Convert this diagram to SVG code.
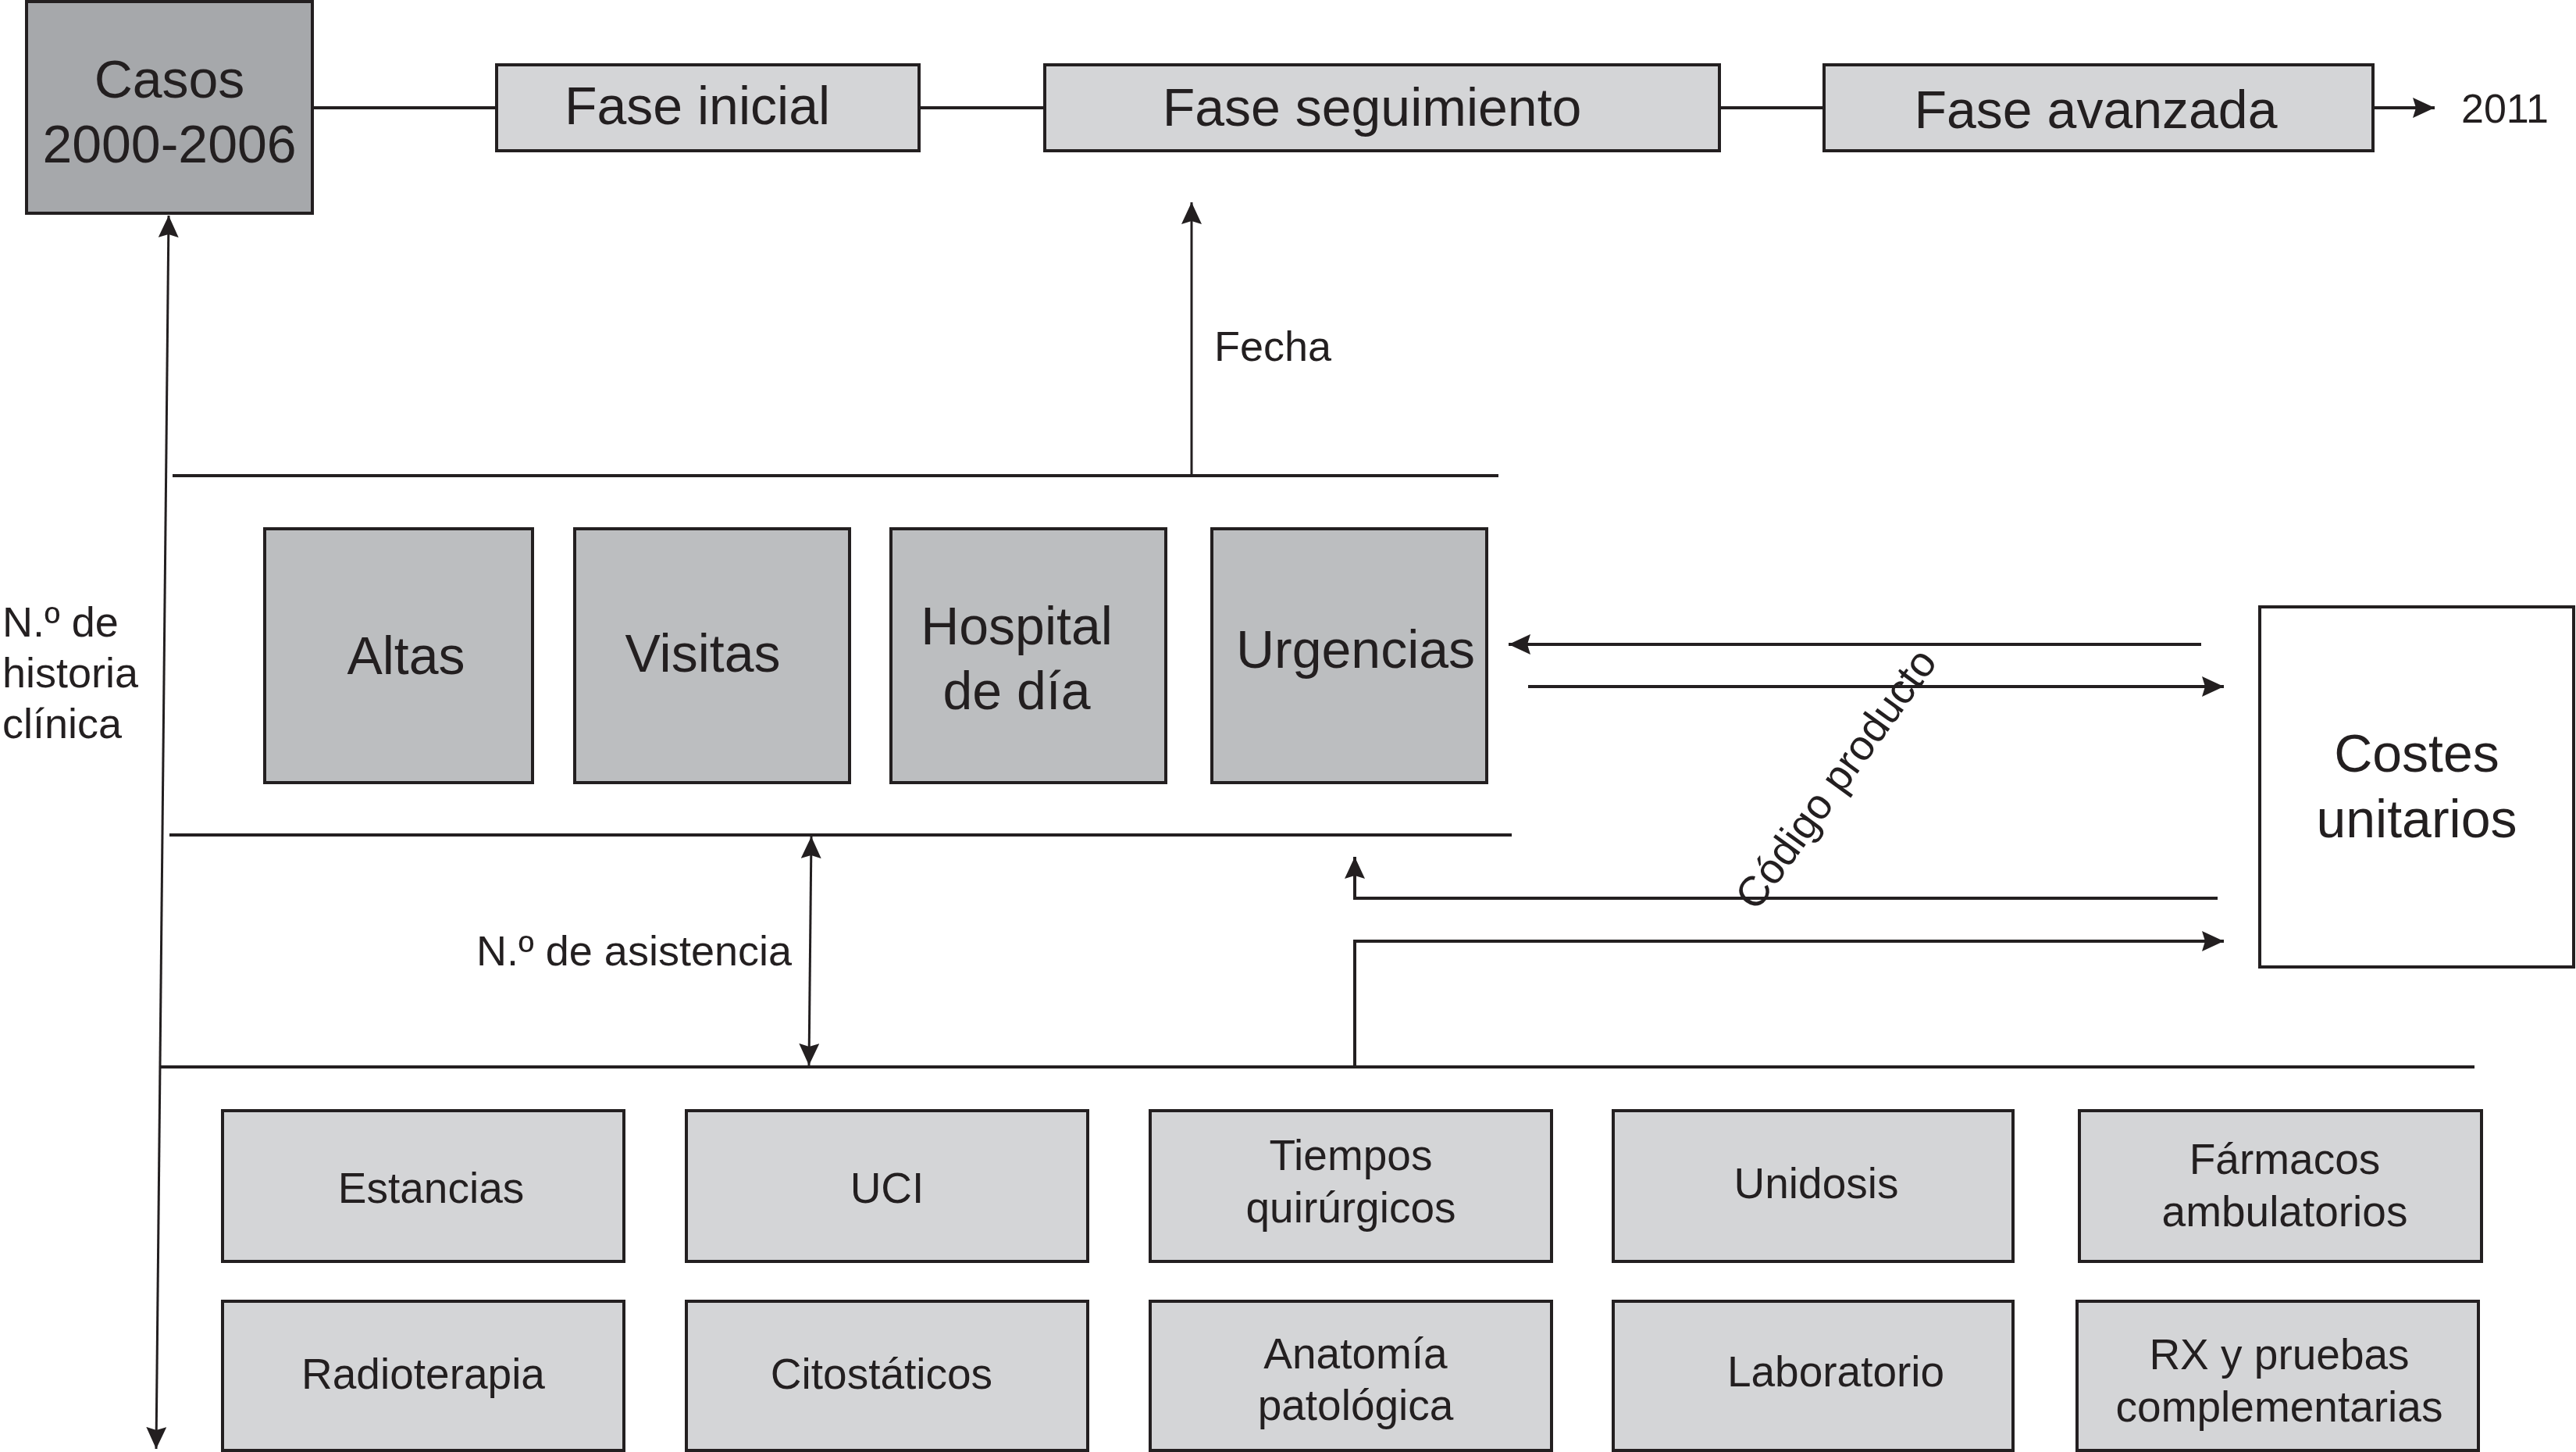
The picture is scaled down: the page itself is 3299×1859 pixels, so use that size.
<svg xmlns="http://www.w3.org/2000/svg" width="3299" height="1859" viewBox="0 0 3299 1859">
<style>
  .box { stroke: #231f20; stroke-width: 4; }
  .dark { fill: #a6a8ab; }
  .mid { fill: #bcbec0; }
  .light { fill: #d4d5d7; }
  .white { fill: #ffffff; }
  .ln { stroke: #231f20; stroke-width: 4; fill: none; }
  .thin { stroke: #231f20; stroke-width: 3; fill: none; }
  text { font-family: "Liberation Sans", Arial, sans-serif; fill: #231f20; }
  .t68 { font-size: 68px; text-anchor: middle; }
  .t66 { font-size: 66px; text-anchor: middle; }
  .t55 { font-size: 55px; text-anchor: middle; }
  .t54 { font-size: 54px; }
</style>
<defs>
  <marker id="ah" markerUnits="userSpaceOnUse" markerWidth="30" markerHeight="28" refX="28" refY="13" orient="auto-start-reverse" viewBox="0 0 30 28">
    <path d="M0,0 L28,13 L0,26 L4,13 Z" fill="#231f20"/>
  </marker>
</defs>
<rect width="3299" height="1859" fill="#ffffff"/>

<g id="connectors">
  <line class="ln" x1="400" y1="138" x2="636" y2="138"/>
  <line class="ln" x1="1177" y1="138" x2="1338" y2="138"/>
  <line class="ln" x1="2202" y1="138" x2="2336" y2="138"/>
  <line class="ln" x1="3039" y1="138" x2="3118" y2="138" marker-end="url(#ah)"/>
  <line class="thin" x1="216" y1="276" x2="200" y2="1855" marker-start="url(#ah)" marker-end="url(#ah)"/>
  <line class="ln" x1="221" y1="609" x2="1919" y2="609"/>
  <line class="thin" x1="1526" y1="609" x2="1526" y2="259" marker-end="url(#ah)"/>
  <line class="ln" x1="217" y1="1069" x2="1936" y2="1069"/>
  <line class="ln" x1="204" y1="1366" x2="3169" y2="1366"/>
  <line class="thin" x1="1039" y1="1071" x2="1036" y2="1364" marker-start="url(#ah)" marker-end="url(#ah)"/>
  <line class="ln" x1="2819" y1="825" x2="1932" y2="825" marker-end="url(#ah)"/>
  <line class="ln" x1="1957" y1="879" x2="2848" y2="879" marker-end="url(#ah)"/>
  <polyline class="ln" points="2840,1150 1735,1150 1735,1097" marker-end="url(#ah)"/>
  <polyline class="ln" points="1735,1366 1735,1205 2848,1205" marker-end="url(#ah)"/>
</g>

<g id="labels">
  <text class="t54" x="1555" y="462">Fecha</text>
  <text class="t54" x="3152" y="157" style="font-size:52px">2011</text>
  <text class="t54" x="3" y="815">N.º de</text>
  <text class="t54" x="3" y="880">historia</text>
  <text class="t54" x="3" y="945">clínica</text>
  <text class="t54" x="1014" y="1236" text-anchor="end">N.º de asistencia</text>
  <text class="t54" x="2366" y="1008" text-anchor="middle" transform="rotate(-54 2366 1008)">Código producto</text>
</g>

<g id="node-casos">
  <rect class="box dark" x="34" y="2" width="366" height="271"/>
  <text class="t68" x="217" y="125">Casos</text>
  <text class="t68" x="217" y="208">2000-2006</text>
</g>
<g id="node-fase-inicial">
  <rect class="box light" x="636" y="83" width="541" height="110"/>
  <text class="t68" x="893" y="159">Fase inicial</text>
</g>
<g id="node-fase-seguimiento">
  <rect class="box light" x="1338" y="83" width="864" height="110"/>
  <text class="t68" x="1757" y="161">Fase seguimiento</text>
</g>
<g id="node-fase-avanzada">
  <rect class="box light" x="2336" y="83" width="703" height="110"/>
  <text class="t68" x="2684" y="164">Fase avanzada</text>
</g>

<g id="node-altas">
  <rect class="box mid" x="339" y="677" width="343" height="325"/>
  <text class="t68" x="520" y="863">Altas</text>
</g>
<g id="node-visitas">
  <rect class="box mid" x="736" y="677" width="352" height="325"/>
  <text class="t68" x="900" y="860">Visitas</text>
</g>
<g id="node-hospital">
  <rect class="box mid" x="1141" y="677" width="352" height="325"/>
  <text class="t68" x="1302" y="825">Hospital</text>
  <text class="t68" x="1302" y="908">de día</text>
</g>
<g id="node-urgencias">
  <rect class="box mid" x="1552" y="677" width="352" height="325"/>
  <text class="t68" x="1736" y="855">Urgencias</text>
</g>
<g id="node-costes">
  <rect class="box white" x="2894" y="777" width="402" height="461"/>
  <text class="t68" x="3095" y="988">Costes</text>
  <text class="t68" x="3095" y="1072">unitarios</text>
</g>

<g id="node-estancias">
  <rect class="box light" x="285" y="1422" width="514" height="193"/>
  <text class="t55" x="552" y="1540">Estancias</text>
</g>
<g id="node-uci">
  <rect class="box light" x="879" y="1422" width="514" height="193"/>
  <text class="t55" x="1136" y="1540">UCI</text>
</g>
<g id="node-tiempos">
  <rect class="box light" x="1473" y="1422" width="514" height="193"/>
  <text class="t55" x="1730" y="1498">Tiempos</text>
  <text class="t55" x="1730" y="1565">quirúrgicos</text>
</g>
<g id="node-unidosis">
  <rect class="box light" x="2066" y="1422" width="512" height="193"/>
  <text class="t55" x="2326" y="1534">Unidosis</text>
</g>
<g id="node-farmacos">
  <rect class="box light" x="2663" y="1422" width="515" height="193"/>
  <text class="t55" x="2926" y="1503">Fármacos</text>
  <text class="t55" x="2926" y="1570">ambulatorios</text>
</g>

<g id="node-radioterapia">
  <rect class="box light" x="285" y="1666" width="514" height="191"/>
  <text class="t55" x="542" y="1778">Radioterapia</text>
</g>
<g id="node-citostaticos">
  <rect class="box light" x="879" y="1666" width="514" height="191"/>
  <text class="t55" x="1129" y="1778">Citostáticos</text>
</g>
<g id="node-anatomia">
  <rect class="box light" x="1473" y="1666" width="514" height="191"/>
  <text class="t55" x="1736" y="1752">Anatomía</text>
  <text class="t55" x="1736" y="1818">patológica</text>
</g>
<g id="node-laboratorio">
  <rect class="box light" x="2066" y="1666" width="512" height="191"/>
  <text class="t55" x="2351" y="1775">Laboratorio</text>
</g>
<g id="node-rx">
  <rect class="box light" x="2660" y="1666" width="514" height="191"/>
  <text class="t55" x="2919" y="1753">RX y pruebas</text>
  <text class="t55" x="2919" y="1820">complementarias</text>
</g>
</svg>
